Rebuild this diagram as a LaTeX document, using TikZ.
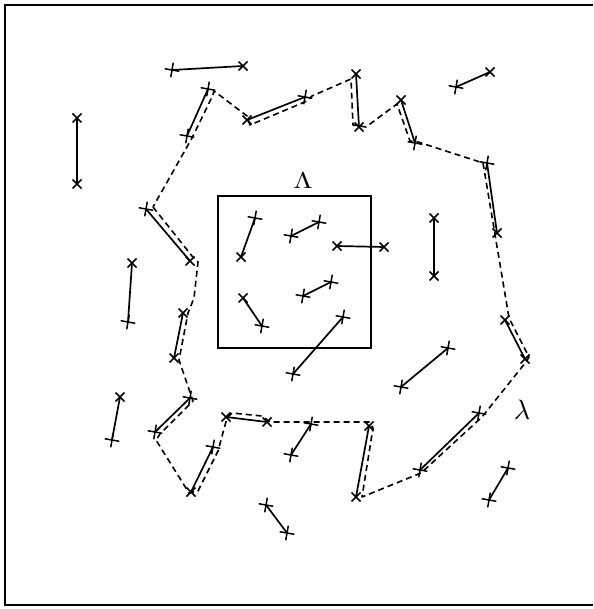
\documentclass[tikz,border=0pt]{standalone}
\usepackage{graphicx}
\usetikzlibrary{shapes.misc}
\begin{document}
\begin{tikzpicture}[x=1pt,y=-1pt,
  xm/.style={cross out, draw, line width=1.5pt, minimum size=7.5pt, inner sep=0pt},
  pm/.style={cross out, draw, line width=1.5pt, minimum size=9pt, inner sep=0pt, rotate=35},
  seg/.style={line width=1.7pt},
  loopline/.style={dash pattern=on 6pt off 4pt, line width=1.6pt, line join=round},
  framerule/.style={line width=2.4pt}]
\useasboundingbox (0,0) rectangle (593,609);
\draw[framerule] (593,5) -- (5,5) -- (5,605) -- (593,605);

% central box
\node[draw, line width=1.9pt, minimum width=153pt, minimum height=152pt, inner sep=0pt] (box) at (294.5,272) {};
\node[inner sep=0pt] (Lam) at (303,181) {\scalebox{2.8}[2.3]{$\Lambda$}};
\node[inner sep=0pt] (lam) at (522,410) {\scalebox{2.8}{$\lambda$}};

% endpoints
\node[pm] (A1) at (172,70) {}; \node[xm] (A2) at (243,66) {};
\node[xm] (B1) at (77,118) {}; \node[xm] (B2) at (77,184) {};
\node[pm] (C1) at (456,87) {}; \node[xm] (C2) at (490,72) {};
\node[xm] (D1) at (434,218) {}; \node[xm] (D2) at (434,276) {};
\node[xm] (E1) at (132,263) {}; \node[pm] (E2) at (128,322) {};
\node[xm] (F1) at (120,397) {}; \node[pm] (F2) at (112,440) {};
\node[pm] (G1) at (311,424) {}; \node[pm] (G2) at (291,455) {};
\node[pm] (H1) at (401,387) {}; \node[pm] (H2) at (448,348) {};
\node[pm] (I1) at (508,468) {}; \node[pm] (I2) at (489,500) {};
\node[pm] (J1) at (266,505) {}; \node[pm] (J2) at (287,533) {};
\node[pm] (K1) at (293,374) {}; \node[pm] (K2) at (343,317) {};
\node[pm] (L1) at (255,218) {}; \node[xm] (L2) at (241,257) {};
\node[pm] (M1) at (291,236) {}; \node[pm] (M2) at (319,222) {};
\node[xm] (N1) at (337,246) {}; \node[xm] (N2) at (384,247) {};
\node[pm] (O1) at (303,296) {}; \node[pm] (O2) at (331,282) {};
\node[xm] (Q1) at (243,298) {}; \node[pm] (Q2) at (262,326) {};
\node[pm] (R1) at (146,209) {}; \node[xm] (R2) at (190,261) {};
\node[pm] (S1) at (208,89) {}; \node[pm] (S2) at (187,136) {};
\node[xm] (T1) at (247,120) {}; \node[pm] (T2) at (305,97) {};
\node[xm] (U1) at (356,74) {}; \node[xm] (U2) at (359,127) {};
\node[xm] (V1) at (401,100) {}; \node[pm] (V2) at (415,143) {};
\node[pm] (W1) at (487,163) {}; \node[xm] (W2) at (497,233) {};
\node[xm] (X1) at (505,320) {}; \node[xm] (X2) at (525,359) {};
\node[pm] (Y1) at (479,413) {}; \node[pm] (Y2) at (420,470) {};
\node[xm] (Z1) at (369,426) {}; \node[xm] (Z2) at (356,497) {};
\node[xm] (AA1) at (226,417) {}; \node[xm] (AA2) at (267,422) {};
\node[pm] (BB1) at (213,447) {}; \node[xm] (BB2) at (191,492) {};
\node[pm] (CC1) at (190,398) {}; \node[pm] (CC2) at (155,432) {};
\node[xm] (DD1) at (183,313) {}; \node[xm] (DD2) at (174,358) {};

% solid bonds
\foreach \p in {A,B,C,D,E,F,G,H,I,J,K,L,M,N,O,Q,R,S,T,U,V,W,X,Y,Z,AA,BB,CC,DD}
  \draw[seg] (\p1.center) -- (\p2.center);

% dashed contour lambda
\foreach \n/\x/\y in {1/153/207, 2/192/256, 3/198/262, 4/194/298, 5/188/313, 6/179/360,
  7/193/401, 8/160/434, 9/156/440, 10/189/493, 11/198/491, 12/218/451, 13/227/418,
  14/232/413, 15/262/416, 16/270/422, 17/369/422, 18/373/428, 19/362/497, 20/421/473,
  21/482/417, 22/526/362, 23/529/357, 24/509/318, 25/483/163, 26/418/142, 27/410/141,
  28/397/104, 29/366/127, 30/353/125, 31/351/79, 32/312/96, 33/307/101, 34/250/125,
  35/247/116, 36/214/91, 37/213/95, 38/192/138}
  \coordinate (d\n) at (\x,\y);
\draw[loopline] (d1) \foreach \n in {2,...,38} { -- (d\n) } -- cycle;
\end{tikzpicture}
\end{document}
